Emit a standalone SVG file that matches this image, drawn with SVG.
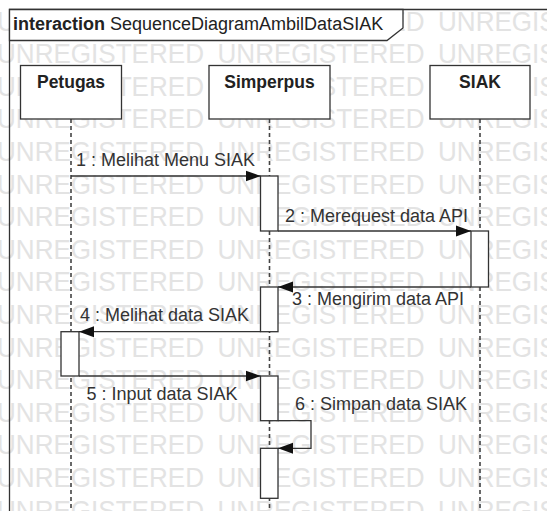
<svg xmlns="http://www.w3.org/2000/svg" xmlns:xlink="http://www.w3.org/1999/xlink" width="547" height="511" viewBox="0 0 547 511">
  <style>
    .wm { font-family: "Liberation Sans", Arial, sans-serif; font-size: 28px; fill: #e3e3e3; }
    .frame { fill: none; stroke: #333; stroke-width: 1.3; }
    .tab { fill: #fff; stroke: #333; stroke-width: 1.3; }
    .title { font-family: "Liberation Sans", Arial, sans-serif; font-size: 18px; fill: #222; }
    .head rect { fill: #fff; stroke: #333; stroke-width: 1.3; }
    .head text { font-family: "Liberation Sans", Arial, sans-serif; font-size: 17.5px; font-weight: bold; fill: #222; text-anchor: middle; }
    .lifeline { stroke: #444; stroke-width: 1.6; stroke-dasharray: 4 3; fill: none; }
    .act { fill: #fff; stroke: #333; stroke-width: 1.3; }
    .msg { fill: none; stroke: #333; stroke-width: 1.3; marker-end: url(#arrow); }
    .lbl { font-family: "Liberation Sans", Arial, sans-serif; font-size: 18px; fill: #333; }
  </style>
  <defs>
    <marker id="arrow" markerUnits="userSpaceOnUse" markerWidth="16" markerHeight="12" viewBox="0 0 16 12" refX="15" refY="6" orient="auto">
      <path d="M0,0.5 L15,6 L0,11.5 Z" fill="#111"/>
    </marker>
    <g id="wm-row">
      <text class="wm" x="-3" textLength="207" lengthAdjust="spacingAndGlyphs">UNREGISTERED</text>
      <text class="wm" x="217.5" textLength="207" lengthAdjust="spacingAndGlyphs">UNREGISTERED</text>
      <text class="wm" x="438" textLength="207" lengthAdjust="spacingAndGlyphs">UNREGISTERED</text>
    </g>
  </defs>

  <rect width="547" height="511" fill="#fff"/>

  <!-- background watermark rows -->
  <g id="watermark">
    <use xlink:href="#wm-row" y="30.5"/>
    <use xlink:href="#wm-row" y="63.1"/>
    <use xlink:href="#wm-row" y="95.7"/>
    <use xlink:href="#wm-row" y="128.3"/>
    <use xlink:href="#wm-row" y="160.9"/>
    <use xlink:href="#wm-row" y="193.5"/>
    <use xlink:href="#wm-row" y="226.1"/>
    <use xlink:href="#wm-row" y="258.7"/>
    <use xlink:href="#wm-row" y="291.3"/>
    <use xlink:href="#wm-row" y="323.9"/>
    <use xlink:href="#wm-row" y="356.5"/>
    <use xlink:href="#wm-row" y="389.1"/>
    <use xlink:href="#wm-row" y="421.7"/>
    <use xlink:href="#wm-row" y="454.3"/>
    <use xlink:href="#wm-row" y="486.9"/>
    <use xlink:href="#wm-row" y="519.5"/>
  </g>

  <!-- interaction frame -->
  <g id="frame">
    <path class="frame" d="M9.5,511 V9.5 H547"/>
    <path class="tab" d="M9.5,9.5 H403 V28 L387,40.5 H9.5 Z"/>
    <text class="title" x="13" y="29.5"><tspan font-weight="bold">interaction</tspan> SequenceDiagramAmbilDataSIAK</text>
  </g>

  <!-- lifelines -->
  <g id="lifelines">
    <line class="lifeline" x1="71" y1="119" x2="71" y2="511"/>
    <line class="lifeline" x1="269.5" y1="119" x2="269.5" y2="511"/>
    <line class="lifeline" x1="480" y1="119" x2="480" y2="511"/>
  </g>

  <g id="petugas" class="head">
    <rect x="20.5" y="65.5" width="101" height="53.5"/>
    <text x="71" y="88">Petugas</text>
  </g>
  <g id="simperpus" class="head">
    <rect x="209" y="65.5" width="121" height="53.5"/>
    <text x="269.5" y="88">Simperpus</text>
  </g>
  <g id="siak" class="head">
    <rect x="430" y="65.5" width="100" height="53.5"/>
    <text x="480" y="88">SIAK</text>
  </g>

  <!-- activation bars -->
  <g id="activations">
    <rect class="act" x="260.5" y="176" width="17.5" height="55"/>
    <rect class="act" x="471" y="231" width="17.5" height="56"/>
    <rect class="act" x="260.5" y="287" width="17.5" height="44.7"/>
    <rect class="act" x="61" y="331.7" width="18" height="44.3"/>
    <rect class="act" x="260.5" y="376" width="17.5" height="44.7"/>
    <rect class="act" x="260.5" y="448.3" width="17.5" height="50"/>
  </g>

  <!-- messages -->
  <g id="connectors">
    <line class="msg" x1="71" y1="176" x2="260.5" y2="176"/>
    <line class="msg" x1="278" y1="231" x2="471" y2="231"/>
    <line class="msg" x1="471" y1="287" x2="278" y2="287"/>
    <line class="msg" x1="260.5" y1="331.7" x2="79" y2="331.7"/>
    <line class="msg" x1="79" y1="376" x2="260.5" y2="376"/>
    <path class="msg" d="M278,420.7 H311 V448.3 H278"/>
  </g>

  <g id="labels">
    <text class="lbl" x="76" y="166">1 : Melihat Menu SIAK</text>
    <text class="lbl" x="285" y="221.5">2 : Merequest data API</text>
    <text class="lbl" x="292" y="305">3 : Mengirim data API</text>
    <text class="lbl" x="80" y="321">4 : Melihat data SIAK</text>
    <text class="lbl" x="86.5" y="399.5">5 : Input data SIAK</text>
    <text class="lbl" x="295" y="410">6 : Simpan data SIAK</text>
  </g>
</svg>
